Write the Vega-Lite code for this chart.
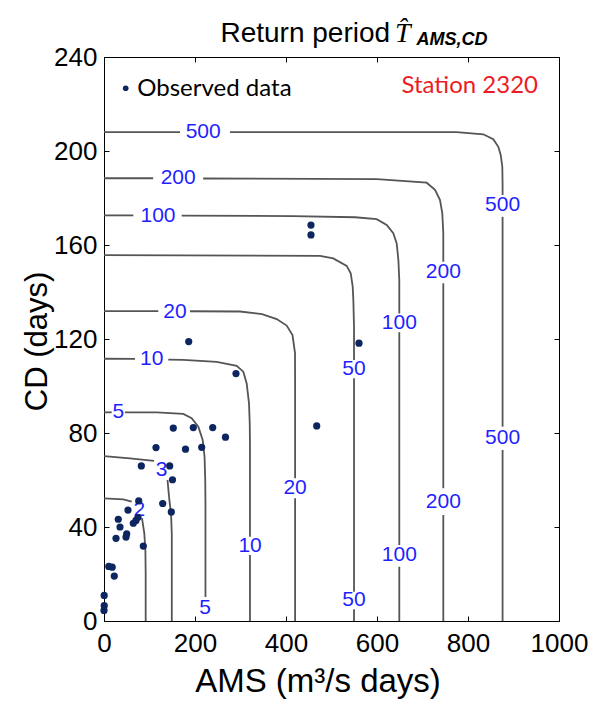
{
  "$schema": "https://vega.github.io/schema/vega-lite/v6.json",
  "width": 455,
  "height": 564,
  "autosize": {"type": "none"},
  "padding": {"left": 104, "top": 57, "right": 34, "bottom": 84},
  "background": "white",
  "config": {
    "view": {"stroke": "black", "strokeWidth": 1},
    "font": "Liberation Sans"
  },
  "datasets": {
    "contours": [
      {"seg": "500a", "ams": 0, "cd": 208}, {"seg": "500a", "ams": 167, "cd": 208},
      {"seg": "500b", "ams": 277, "cd": 208}, {"seg": "500b", "ams": 775, "cd": 208}, {"seg": "500b", "ams": 833.6, "cd": 207.1}, {"seg": "500b", "ams": 855.6, "cd": 205.0}, {"seg": "500b", "ams": 866.6, "cd": 201.8}, {"seg": "500b", "ams": 871.9, "cd": 198.3}, {"seg": "500b", "ams": 875.4, "cd": 193.3}, {"seg": "500b", "ams": 876, "cd": 186}, {"seg": "500b", "ams": 876, "cd": 181.3},
      {"seg": "500c", "ams": 876, "cd": 172}, {"seg": "500c", "ams": 876, "cd": 82.7},
      {"seg": "500d", "ams": 876, "cd": 72.8}, {"seg": "500d", "ams": 876, "cd": 0},

      {"seg": "200a", "ams": 0, "cd": 188.4}, {"seg": "200a", "ams": 108, "cd": 188.4},
      {"seg": "200b", "ams": 218, "cd": 188.3}, {"seg": "200b", "ams": 600, "cd": 188}, {"seg": "200b", "ams": 709.2, "cd": 186.5}, {"seg": "200b", "ams": 727.5, "cd": 183.5}, {"seg": "200b", "ams": 738.5, "cd": 179.1}, {"seg": "200b", "ams": 743.5, "cd": 173.5}, {"seg": "200b", "ams": 745.7, "cd": 165}, {"seg": "200b", "ams": 745.7, "cd": 152.9},
      {"seg": "200c", "ams": 745.7, "cd": 143.7}, {"seg": "200c", "ams": 745.7, "cd": 56.5},
      {"seg": "200d", "ams": 745.7, "cd": 45.1}, {"seg": "200d", "ams": 745.7, "cd": 0},

      {"seg": "100a", "ams": 0, "cd": 172.6}, {"seg": "100a", "ams": 64.4, "cd": 172.6},
      {"seg": "100b", "ams": 170.8, "cd": 172.5}, {"seg": "100b", "ams": 415, "cd": 172.3}, {"seg": "100b", "ams": 551.6, "cd": 171.8}, {"seg": "100b", "ams": 599.3, "cd": 171.0}, {"seg": "100b", "ams": 621.3, "cd": 168.5}, {"seg": "100b", "ams": 635.8, "cd": 165.0}, {"seg": "100b", "ams": 643.3, "cd": 160.7}, {"seg": "100b", "ams": 647, "cd": 153.6}, {"seg": "100b", "ams": 649, "cd": 145}, {"seg": "100b", "ams": 649, "cd": 130.9},
      {"seg": "100c", "ams": 649, "cd": 122.9}, {"seg": "100c", "ams": 649, "cd": 32.3},
      {"seg": "100d", "ams": 649, "cd": 23.1}, {"seg": "100d", "ams": 649, "cd": 0},

      {"seg": "50a", "ams": 0, "cd": 155.7}, {"seg": "50a", "ams": 474.7, "cd": 155.4}, {"seg": "50a", "ams": 504, "cd": 154.3}, {"seg": "50a", "ams": 533.4, "cd": 151.1}, {"seg": "50a", "ams": 542.2, "cd": 148.0}, {"seg": "50a", "ams": 546.6, "cd": 142.3}, {"seg": "50a", "ams": 548, "cd": 136.6}, {"seg": "50a", "ams": 549.5, "cd": 125}, {"seg": "50a", "ams": 549.5, "cd": 111.1},
      {"seg": "50b", "ams": 549.5, "cd": 103.3}, {"seg": "50b", "ams": 549.5, "cd": 12.5},
      {"seg": "50c", "ams": 549.5, "cd": 5.0}, {"seg": "50c", "ams": 549.5, "cd": 0},

      {"seg": "20a", "ams": 0, "cd": 131.9}, {"seg": "20a", "ams": 119.3, "cd": 131.9},
      {"seg": "20b", "ams": 189, "cd": 131.8}, {"seg": "20b", "ams": 299, "cd": 131.7}, {"seg": "20b", "ams": 347.3, "cd": 130.6}, {"seg": "20b", "ams": 379.6, "cd": 128.5}, {"seg": "20b", "ams": 401.5, "cd": 125.7}, {"seg": "20b", "ams": 414.3, "cd": 121.7}, {"seg": "20b", "ams": 419.8, "cd": 114.0}, {"seg": "20b", "ams": 420, "cd": 100}, {"seg": "20b", "ams": 420, "cd": 60.7},
      {"seg": "20c", "ams": 420, "cd": 52.2}, {"seg": "20c", "ams": 420, "cd": 0},

      {"seg": "10a", "ams": 0, "cd": 111.6}, {"seg": "10a", "ams": 68.1, "cd": 111.5},
      {"seg": "10b", "ams": 141.3, "cd": 111.2}, {"seg": "10b", "ams": 174.3, "cd": 111.1}, {"seg": "10b", "ams": 247.7, "cd": 110.3}, {"seg": "10b", "ams": 291.6, "cd": 108.6}, {"seg": "10b", "ams": 306.2, "cd": 106.1}, {"seg": "10b", "ams": 313.6, "cd": 101.1}, {"seg": "10b", "ams": 318.7, "cd": 92.6}, {"seg": "10b", "ams": 320.3, "cd": 84}, {"seg": "10b", "ams": 320.8, "cd": 75}, {"seg": "10b", "ams": 320.8, "cd": 35.9},
      {"seg": "10c", "ams": 320.8, "cd": 28.1}, {"seg": "10c", "ams": 320.8, "cd": 0},

      {"seg": "5a", "ams": 0, "cd": 88.8}, {"seg": "5a", "ams": 16.9, "cd": 88.8},
      {"seg": "5b", "ams": 46.2, "cd": 88.8}, {"seg": "5b", "ams": 115.8, "cd": 88.8}, {"seg": "5b", "ams": 174.3, "cd": 88.1}, {"seg": "5b", "ams": 192.7, "cd": 86.3}, {"seg": "5b", "ams": 207.3, "cd": 82.7}, {"seg": "5b", "ams": 216.9, "cd": 77.0}, {"seg": "5b", "ams": 221, "cd": 69.9}, {"seg": "5b", "ams": 222.5, "cd": 60}, {"seg": "5b", "ams": 223, "cd": 50}, {"seg": "5b", "ams": 223, "cd": 10.2},

      {"seg": "3a", "ams": 0, "cd": 70.2}, {"seg": "3a", "ams": 57, "cd": 69.2}, {"seg": "3a", "ams": 109.9, "cd": 68.1},
      {"seg": "3b", "ams": 139.6, "cd": 60.0}, {"seg": "3b", "ams": 142.9, "cd": 52.9}, {"seg": "3b", "ams": 147.5, "cd": 45}, {"seg": "3b", "ams": 149, "cd": 37}, {"seg": "3b", "ams": 149, "cd": 0},

      {"seg": "2a", "ams": 0, "cd": 52.2}, {"seg": "2a", "ams": 42.4, "cd": 51.8}, {"seg": "2a", "ams": 60.9, "cd": 50.8},
      {"seg": "2b", "ams": 83.5, "cd": 43.8}, {"seg": "2b", "ams": 88.6, "cd": 37.3}, {"seg": "2b", "ams": 91, "cd": 30}, {"seg": "2b", "ams": 91.6, "cd": 20}, {"seg": "2b", "ams": 91.6, "cd": 0}
    ],
    "labels": [
      {"lab": "500", "ams": 218, "cd": 208}, {"lab": "500", "ams": 876, "cd": 177}, {"lab": "500", "ams": 876, "cd": 78},
      {"lab": "200", "ams": 163, "cd": 188.4}, {"lab": "200", "ams": 745.7, "cd": 148.5}, {"lab": "200", "ams": 745.7, "cd": 50.8},
      {"lab": "100", "ams": 118.7, "cd": 172.5}, {"lab": "100", "ams": 649, "cd": 127}, {"lab": "100", "ams": 649, "cd": 28},
      {"lab": "50", "ams": 549.5, "cd": 107.3}, {"lab": "50", "ams": 549.5, "cd": 8.8},
      {"lab": "20", "ams": 156, "cd": 131.7}, {"lab": "20", "ams": 420, "cd": 56.5},
      {"lab": "10", "ams": 104.8, "cd": 111.4}, {"lab": "10", "ams": 321, "cd": 32},
      {"lab": "5", "ams": 31.4, "cd": 88.8}, {"lab": "5", "ams": 222, "cd": 5.7},
      {"lab": "3", "ams": 126.8, "cd": 64.3},
      {"lab": "2", "ams": 77.6, "cd": 47.2}
    ],
    "obs": [
      {"ams": 454.9, "cd": 168.5}, {"ams": 454.9, "cd": 164.3}, {"ams": 560.4, "cd": 118.2},
      {"ams": 186.2, "cd": 118.9}, {"ams": 290.1, "cd": 105.3}, {"ams": 467.5, "cd": 83.0},
      {"ams": 152.3, "cd": 82.1}, {"ams": 196.3, "cd": 82.3}, {"ams": 238.9, "cd": 82.3},
      {"ams": 267.0, "cd": 78.2}, {"ams": 114.3, "cd": 73.8}, {"ams": 179.1, "cd": 73.1},
      {"ams": 214.7, "cd": 73.9}, {"ams": 82.0, "cd": 66.0}, {"ams": 144.4, "cd": 66.0},
      {"ams": 150.5, "cd": 60.1}, {"ams": 76.3, "cd": 51.1}, {"ams": 52.7, "cd": 47.2},
      {"ams": 129.0, "cd": 50.0}, {"ams": 147.9, "cd": 46.4}, {"ams": 31.4, "cd": 43.3},
      {"ams": 74.7, "cd": 44.1}, {"ams": 64.4, "cd": 41.6}, {"ams": 70.3, "cd": 42.8},
      {"ams": 35.2, "cd": 40.0}, {"ams": 49.9, "cd": 37.1}, {"ams": 26.4, "cd": 35.2},
      {"ams": 48.4, "cd": 35.7}, {"ams": 86.4, "cd": 31.9}, {"ams": 10.5, "cd": 23.2},
      {"ams": 18.0, "cd": 22.9}, {"ams": 22.6, "cd": 19.1}, {"ams": 0.4, "cd": 10.9},
      {"ams": 0, "cd": 4.5}, {"ams": 0.5, "cd": 6.5}
    ]
  },
  "layer": [
    {
      "data": {"name": "contours"},
      "mark": {"type": "line", "color": "#555555", "strokeWidth": 1.8},
      "encoding": {
        "x": {
          "field": "ams", "type": "quantitative",
          "scale": {"domain": [0, 1000], "nice": false, "zero": false},
          "axis": {
            "orient": "bottom", "values": [0, 200, 400, 600, 800, 1000], "format": "d",
            "grid": false, "tickSize": -5, "tickColor": "black", "domainColor": "black",
            "labelFontSize": 26, "labelColor": "black", "labelPadding": 14,
            "labelFlush": false, "labelOverlap": false,
            "title": "AMS (m³/s days)", "titleFontSize": 33, "titleFontWeight": "normal", "titleColor": "black",
            "titleX": 213.5, "titleY": 70.7, "titleBaseline": "alphabetic", "titleAlign": "center"
          }
        },
        "y": {
          "field": "cd", "type": "quantitative",
          "scale": {"domain": [0, 240], "nice": false, "zero": false},
          "axis": {
            "orient": "left", "values": [0, 40, 80, 120, 160, 200, 240], "format": "d",
            "grid": false, "tickSize": -5, "tickColor": "black", "domainColor": "black",
            "labelFontSize": 26, "labelColor": "black", "labelPadding": 12,
            "labelFlush": false, "labelOverlap": false,
            "title": "CD (days)", "titleFontSize": 31, "titleFontWeight": "normal", "titleColor": "black",
            "titleAngle": -90, "titleX": -58, "titleY": 284, "titleBaseline": "alphabetic", "titleAlign": "center"
          }
        },
        "detail": {"field": "seg"},
        "order": {"value": null}
      }
    },
    {
      "data": {"name": "labels"},
      "mark": {"type": "text", "font": "Liberation Sans", "fontSize": 21, "color": "#1f1fff", "align": "center", "baseline": "middle"},
      "encoding": {
        "x": {
          "field": "ams", "type": "quantitative",
          "axis": {"orient": "top", "values": [0, 200, 400, 600, 800, 1000], "labels": false, "title": null, "grid": false, "tickSize": -5, "tickColor": "black", "domainColor": "black"}
        },
        "y": {
          "field": "cd", "type": "quantitative",
          "axis": {"orient": "right", "values": [0, 40, 80, 120, 160, 200, 240], "labels": false, "title": null, "grid": false, "tickSize": -5, "tickColor": "black", "domainColor": "black"}
        },
        "text": {"field": "lab"}
      }
    },
    {
      "data": {"name": "obs"},
      "mark": {"type": "point", "shape": "circle", "filled": true, "size": 52, "color": "#0d2660", "opacity": 1},
      "encoding": {
        "x": {"field": "ams", "type": "quantitative", "axis": null},
        "y": {"field": "cd", "type": "quantitative", "axis": null}
      }
    },
    {
      "data": {"values": [{"ams": 47.7, "cd": 226.7}]},
      "mark": {"type": "point", "shape": "circle", "filled": true, "size": 32, "color": "#0d2660", "opacity": 1},
      "encoding": {
        "x": {"field": "ams", "type": "quantitative", "axis": null},
        "y": {"field": "cd", "type": "quantitative", "axis": null}
      }
    },
    {
      "data": {"values": [{"ams": 73.2, "cd": 223.5, "t": "Observed data"}]},
      "mark": {"type": "text", "font": "Lato", "fontSize": 24, "color": "black", "align": "left", "baseline": "alphabetic"},
      "encoding": {
        "x": {"field": "ams", "type": "quantitative", "axis": null},
        "y": {"field": "cd", "type": "quantitative", "axis": null},
        "text": {"field": "t"}
      }
    },
    {
      "data": {"values": [{"ams": 953.8, "cd": 224.6, "t": "Station 2320"}]},
      "mark": {"type": "text", "font": "Lato", "fontSize": 24, "color": "#ed1c24", "align": "right", "baseline": "alphabetic"},
      "encoding": {
        "x": {"field": "ams", "type": "quantitative", "axis": null},
        "y": {"field": "cd", "type": "quantitative", "axis": null},
        "text": {"field": "t"}
      }
    },
    {
      "data": {"values": [{"ams": 256, "cd": 246.5, "t": "Return period"}]},
      "mark": {"type": "text", "font": "Liberation Sans", "fontSize": 28, "color": "black", "align": "left", "baseline": "alphabetic"},
      "encoding": {
        "x": {"field": "ams", "type": "quantitative", "axis": null},
        "y": {"field": "cd", "type": "quantitative", "axis": null},
        "text": {"field": "t"}
      }
    },
    {
      "data": {"values": [{"ams": 639.6, "cd": 246.5, "t": "T̂"}]},
      "mark": {"type": "text", "font": "Liberation Serif", "fontStyle": "italic", "fontSize": 28, "color": "black", "align": "left", "baseline": "alphabetic"},
      "encoding": {
        "x": {"field": "ams", "type": "quantitative", "axis": null},
        "y": {"field": "cd", "type": "quantitative", "axis": null},
        "text": {"field": "t"}
      }
    },
    {
      "data": {"values": [{"ams": 687, "cd": 245.1, "t": "AMS,CD"}]},
      "mark": {"type": "text", "font": "Liberation Sans", "fontStyle": "italic", "fontWeight": "bold", "fontSize": 18, "color": "black", "align": "left", "baseline": "alphabetic"},
      "encoding": {
        "x": {"field": "ams", "type": "quantitative", "axis": null},
        "y": {"field": "cd", "type": "quantitative", "axis": null},
        "text": {"field": "t"}
      }
    }
  ],
  "resolve": {"axis": {"x": "independent", "y": "independent"}}
}
